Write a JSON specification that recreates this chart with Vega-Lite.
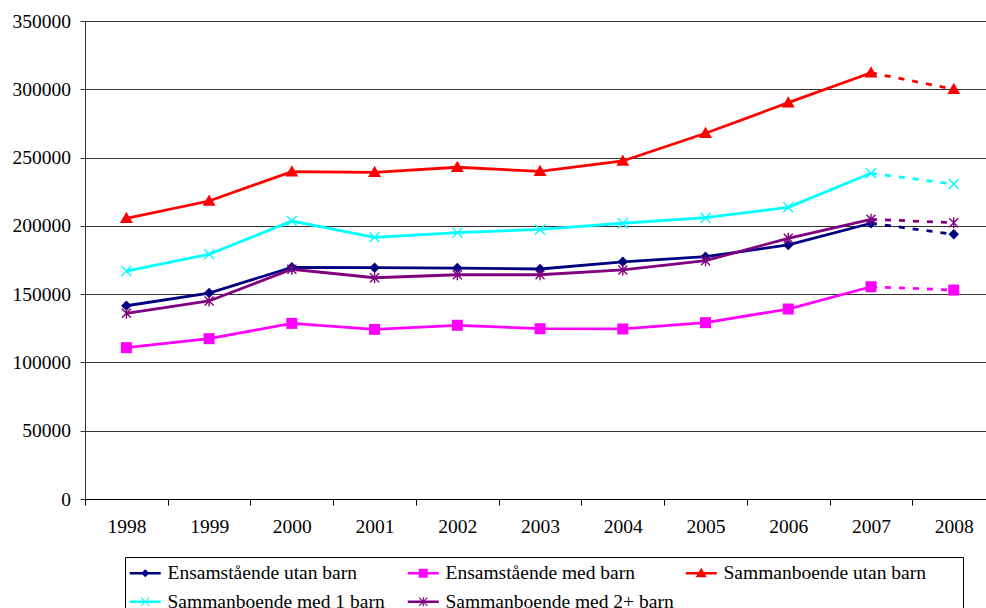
{
  "$schema": "https://vega.github.io/schema/vega-lite/v6.json",
  "autosize": {"type": "none"},
  "padding": {"left": 85, "top": 21, "right": 0, "bottom": 109},
  "width": 901,
  "height": 478,
  "background": "white",
  "config": {
    "view": {"stroke": null},
    "font": "Liberation Serif, Times New Roman, serif",
    "axis": {"labelFont": "Liberation Serif, Times New Roman, serif", "labelFontSize": 19.5, "labelColor": "black", "title": null},
    "legend": {"labelFont": "Liberation Serif, Times New Roman, serif"}
  },
  "resolve": {"legend": {"color": "independent", "shape": "independent"}},
  "datasets": {
    "inc": [
      {"year": 1998, "serie": "Ensamstående utan barn", "value": 141500},
      {"year": 1999, "serie": "Ensamstående utan barn", "value": 150800},
      {"year": 2000, "serie": "Ensamstående utan barn", "value": 169600},
      {"year": 2001, "serie": "Ensamstående utan barn", "value": 169400},
      {"year": 2002, "serie": "Ensamstående utan barn", "value": 169100},
      {"year": 2003, "serie": "Ensamstående utan barn", "value": 168400},
      {"year": 2004, "serie": "Ensamstående utan barn", "value": 173700},
      {"year": 2005, "serie": "Ensamstående utan barn", "value": 177400},
      {"year": 2006, "serie": "Ensamstående utan barn", "value": 186000},
      {"year": 2007, "serie": "Ensamstående utan barn", "value": 201900},
      {"year": 2008, "serie": "Ensamstående utan barn", "value": 193800},
      {"year": 1998, "serie": "Ensamstående med barn", "value": 110800},
      {"year": 1999, "serie": "Ensamstående med barn", "value": 117400},
      {"year": 2000, "serie": "Ensamstående med barn", "value": 128600},
      {"year": 2001, "serie": "Ensamstående med barn", "value": 124200},
      {"year": 2002, "serie": "Ensamstående med barn", "value": 127200},
      {"year": 2003, "serie": "Ensamstående med barn", "value": 124700},
      {"year": 2004, "serie": "Ensamstående med barn", "value": 124500},
      {"year": 2005, "serie": "Ensamstående med barn", "value": 129100},
      {"year": 2006, "serie": "Ensamstående med barn", "value": 139100},
      {"year": 2007, "serie": "Ensamstående med barn", "value": 155400},
      {"year": 2008, "serie": "Ensamstående med barn", "value": 153000},
      {"year": 1998, "serie": "Sammanboende utan barn", "value": 205500},
      {"year": 1999, "serie": "Sammanboende utan barn", "value": 218200},
      {"year": 2000, "serie": "Sammanboende utan barn", "value": 239700},
      {"year": 2001, "serie": "Sammanboende utan barn", "value": 239200},
      {"year": 2002, "serie": "Sammanboende utan barn", "value": 242900},
      {"year": 2003, "serie": "Sammanboende utan barn", "value": 239900},
      {"year": 2004, "serie": "Sammanboende utan barn", "value": 247500},
      {"year": 2005, "serie": "Sammanboende utan barn", "value": 267800},
      {"year": 2006, "serie": "Sammanboende utan barn", "value": 290200},
      {"year": 2007, "serie": "Sammanboende utan barn", "value": 312100},
      {"year": 2008, "serie": "Sammanboende utan barn", "value": 300000},
      {"year": 1998, "serie": "Sammanboende med 1 barn", "value": 166900},
      {"year": 1999, "serie": "Sammanboende med 1 barn", "value": 179200},
      {"year": 2000, "serie": "Sammanboende med 1 barn", "value": 203500},
      {"year": 2001, "serie": "Sammanboende med 1 barn", "value": 191600},
      {"year": 2002, "serie": "Sammanboende med 1 barn", "value": 195000},
      {"year": 2003, "serie": "Sammanboende med 1 barn", "value": 197400},
      {"year": 2004, "serie": "Sammanboende med 1 barn", "value": 201900},
      {"year": 2005, "serie": "Sammanboende med 1 barn", "value": 206000},
      {"year": 2006, "serie": "Sammanboende med 1 barn", "value": 213600},
      {"year": 2007, "serie": "Sammanboende med 1 barn", "value": 238500},
      {"year": 2008, "serie": "Sammanboende med 1 barn", "value": 230600},
      {"year": 1998, "serie": "Sammanboende med 2+ barn", "value": 136000},
      {"year": 1999, "serie": "Sammanboende med 2+ barn", "value": 145000},
      {"year": 2000, "serie": "Sammanboende med 2+ barn", "value": 168200},
      {"year": 2001, "serie": "Sammanboende med 2+ barn", "value": 162000},
      {"year": 2002, "serie": "Sammanboende med 2+ barn", "value": 164200},
      {"year": 2003, "serie": "Sammanboende med 2+ barn", "value": 164200},
      {"year": 2004, "serie": "Sammanboende med 2+ barn", "value": 167700},
      {"year": 2005, "serie": "Sammanboende med 2+ barn", "value": 174500},
      {"year": 2006, "serie": "Sammanboende med 2+ barn", "value": 190900},
      {"year": 2007, "serie": "Sammanboende med 2+ barn", "value": 204800},
      {"year": 2008, "serie": "Sammanboende med 2+ barn", "value": 202300}
    ]
  },
  "data": {"name": "inc"},
  "encoding": {
    "x": {
      "field": "year", "type": "quantitative",
      "scale": {"domain": [1997.5, 2008.39], "nice": false, "zero": false},
      "axis": {
        "values": [1997.5, 1998.5, 1999.5, 2000.5, 2001.5, 2002.5, 2003.5, 2004.5, 2005.5, 2006.5, 2007.5],
        "labelExpr": "format(datum.value + 0.5, 'd')",
        "labelOffset": 41.4,
        "labelFlush": false,
        "labelOverlap": false,
        "labelBound": false,
        "grid": false,
        "tickSize": 6,
        "tickColor": "black",
        "domainColor": "black",
        "domainWidth": 1,
        "labelPadding": 12
      }
    },
    "y": {
      "field": "value", "type": "quantitative",
      "scale": {"domain": [0, 350000], "nice": false},
      "axis": {
        "values": [0, 50000, 100000, 150000, 200000, 250000, 300000, 350000],
        "format": "d",
        "grid": true,
        "gridColor": "#333333",
        "gridWidth": 1,
        "tickSize": 5,
        "tickColor": "#333333",
        "domainColor": "#333333",
        "labelPadding": 9.5
      }
    },
    "color": {
      "field": "serie", "type": "nominal",
      "scale": {
        "domain": ["Ensamstående utan barn", "Ensamstående med barn", "Sammanboende utan barn", "Sammanboende med 1 barn", "Sammanboende med 2+ barn"],
        "range": ["#000080", "#FF00FF", "#FF0000", "#00FFFF", "#800080"]
      },
      "legend": null
    }
  },
  "layer": [
    {
      "transform": [{"filter": "datum.year <= 2007"}],
      "mark": {"type": "line", "strokeWidth": 2.8}
    },
    {
      "transform": [{"filter": "datum.year >= 2007"}],
      "mark": {"type": "line", "strokeWidth": 2.8, "strokeDash": [6, 8]}
    },
    {
      "transform": [{"filter": "datum.serie === 'Ensamstående utan barn'"}],
      "mark": {"type": "point", "filled": true, "opacity": 1, "size": 100, "strokeWidth": 0, "shape": "M0,-1.05L1.05,0L0,1.05L-1.05,0Z"}
    },
    {
      "transform": [{"filter": "datum.serie === 'Ensamstående med barn'"}],
      "mark": {"type": "point", "filled": true, "opacity": 1, "size": 100, "strokeWidth": 0, "shape": "M-1.1,-1.1H1.1V1.1H-1.1Z"}
    },
    {
      "transform": [{"filter": "datum.serie === 'Sammanboende utan barn'"}],
      "mark": {"type": "point", "filled": true, "opacity": 1, "size": 100, "strokeWidth": 0, "shape": "M0,-1.3L1.3,0.95L-1.3,0.95Z"}
    },
    {
      "transform": [{"filter": "datum.serie === 'Sammanboende med 1 barn'"}],
      "mark": {"type": "point", "filled": true, "opacity": 1, "size": 100, "strokeWidth": 0, "shape": "M-1.1,-0.9L-0.9,-1.1L1.1,0.9L0.9,1.1Z M0.9,-1.1L1.1,-0.9L-0.9,1.1L-1.1,0.9Z"}
    },
    {
      "transform": [{"filter": "datum.serie === 'Sammanboende med 2+ barn'"}],
      "mark": {"type": "point", "filled": true, "opacity": 1, "size": 100, "strokeWidth": 0, "shape": "M-1,-0.8L-0.8,-1L1,0.8L0.8,1Z M0.8,-1L1,-0.8L-0.8,1L-1,0.8Z M-0.14,-1.1H0.14V1.1H-0.14Z"}
    },
    {
      "mark": {"type": "point", "filled": true, "opacity": 0, "size": 100, "strokeWidth": 0},
      "encoding": {
        "color": {
          "field": "serie", "type": "nominal",
          "legend": {
            "orient": "none",
            "legendX": 40,
            "legendY": 536,
            "direction": "horizontal",
            "columns": 3,
            "gridAlign": "all",
            "columnPadding": 6,
            "rowPadding": 8,
            "padding": 6,
            "title": null,
            "strokeColor": "black",
            "fillColor": "white",
            "symbolOpacity": 1,
            "symbolSize": 100,
            "symbolStrokeWidth": 0,
            "labelFont": "Liberation Serif, Times New Roman, serif",
            "labelFontSize": 19.5,
            "labelColor": "black",
            "labelOffset": 17,
            "labelLimit": 400,
            "labelExpr": "datum.value === 'Sammanboende utan barn' ? datum.label + '\u2800\u2800' : datum.label"
          }
        },
        "shape": {
          "field": "serie", "type": "nominal",
          "scale": {
            "domain": ["Ensamstående utan barn", "Ensamstående med barn", "Sammanboende utan barn", "Sammanboende med 1 barn", "Sammanboende med 2+ barn"],
            "range": [
              "M-2.2,-0.25H4V0.25H-2.2Z M0.9,-0.8L1.7,0L0.9,0.8L0.1,0Z",
              "M-2.2,-0.25H4V0.25H-2.2Z M0,-0.9H1.8V0.9H0Z",
              "M-2.2,-0.25H4V0.25H-2.2Z M0.9,-1.1L2,0.8L-0.2,0.8Z",
              "M-2.2,-0.25H4V0.25H-2.2Z M0,-0.75L0.15,-0.9L1.8,0.75L1.65,0.9Z M1.65,-0.9L1.8,-0.75L0.15,0.9L0,0.75Z",
              "M-2.2,-0.25H4V0.25H-2.2Z M0,-0.75L0.15,-0.9L1.8,0.75L1.65,0.9Z M1.65,-0.9L1.8,-0.75L0.15,0.9L0,0.75Z M0.78,-0.9H1.02V0.9H0.78Z"
            ]
          },
          "legend": {
            "orient": "none",
            "legendX": 40,
            "legendY": 536,
            "direction": "horizontal",
            "columns": 3,
            "gridAlign": "all",
            "columnPadding": 6,
            "rowPadding": 8,
            "padding": 6,
            "title": null,
            "strokeColor": "black",
            "fillColor": "white",
            "symbolOpacity": 1,
            "symbolSize": 100,
            "symbolStrokeWidth": 0,
            "labelFont": "Liberation Serif, Times New Roman, serif",
            "labelFontSize": 19.5,
            "labelColor": "black",
            "labelOffset": 17,
            "labelLimit": 400,
            "labelExpr": "datum.value === 'Sammanboende utan barn' ? datum.label + '\u2800\u2800' : datum.label"
          }
        }
      }
    }
  ]
}
